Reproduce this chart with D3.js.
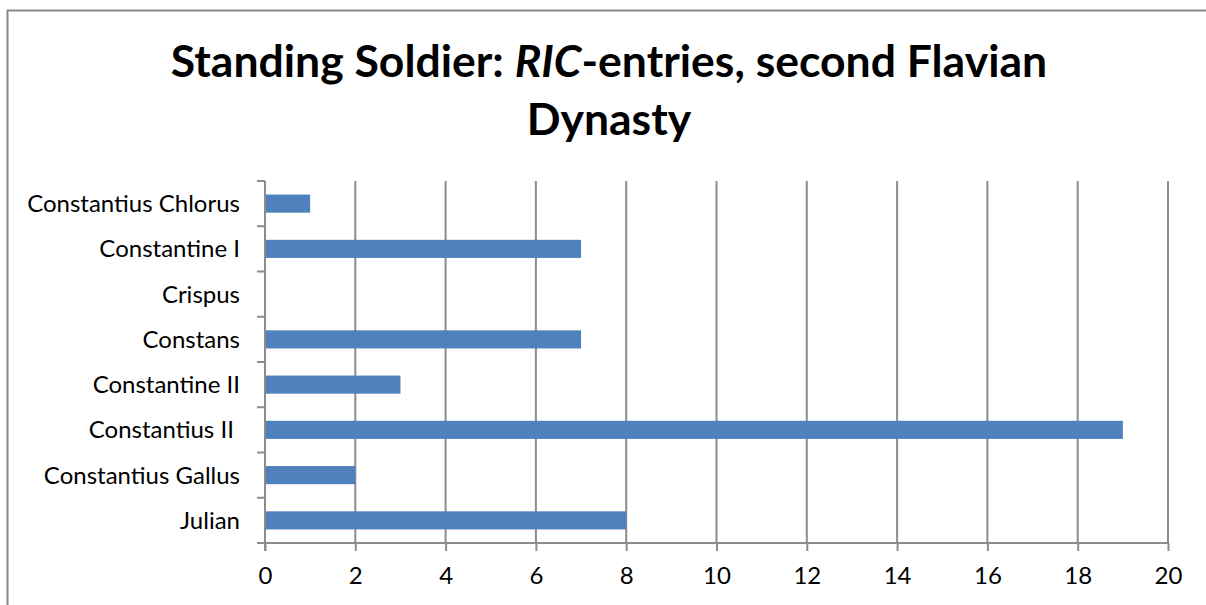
<!DOCTYPE html>
<html>
<head>
<meta charset="utf-8">
<script src="https://cdn.jsdelivr.net/npm/d3@7"></script>
<style>
  body { margin: 0; background: #fff; }
  svg { display: block; }
  text { font-family: Lato, "Open Sans", sans-serif; fill: #000; }
</style>
</head>
<body>
<div id="chart"></div>
<script>
// data
const rulers = ['Constantius Chlorus', 'Constantine I', 'Crispus', 'Constans',
  'Constantine II', 'Constantius II ', 'Constantius Gallus', 'Julian'];
const entries = [1, 7, 0, 7, 3, 19, 2, 8];
const xTicks = [0, 2, 4, 6, 8, 10, 12, 14, 16, 18, 20];

const width = 1206, height = 605;
const margin = { top: 181, right: 38, bottom: 62, left: 265 };

const svg = d3.select('#chart')
  .append('svg')
  .attr('width', width)
  .attr('height', height);

// chart frame
svg.append('rect')
  .attr('x', 7.5).attr('y', 10.5)
  .attr('width', width + 10).attr('height', height + 10)
  .attr('fill', 'none')
  .attr('stroke', '#888')
  .attr('stroke-width', 2);

// title
let title = svg.append('text')
  .attr('text-anchor', 'middle')
  .attr('font-size', 44.5)
  .attr('font-weight', 'bold');
let line1 = title.append('tspan').attr('x', 609).attr('y', 77);
line1.append('tspan').text('Standing Soldier: ');
line1.append('tspan').attr('font-style', 'italic').text('RIC');
line1.append('tspan').text('-entries, second Flavian');
title.append('tspan').attr('x', 609).attr('y', 135).text('Dynasty');

let x = d3.scaleLinear()
  .domain([0, 20])
  .range([margin.left, width - margin.right]);

let y = d3.scaleBand()
  .domain(rulers)
  .range([margin.top, height - margin.bottom])
  .paddingInner(0.6)
  .paddingOuter(0.3);

const gridColor = '#8c8c8c';

// vertical gridlines
svg.append('g')
  .selectAll('line')
  .data(xTicks.slice(1))
  .enter()
  .append('line')
  .attr('x1', d => x(d)).attr('x2', d => x(d))
  .attr('y1', margin.top).attr('y2', height - margin.bottom)
  .attr('stroke', gridColor)
  .attr('stroke-width', 2);

// bars
svg.append('g')
  .selectAll('rect')
  .data(rulers)
  .enter()
  .append('rect')
  .attr('x', x(0))
  .attr('y', d => y(d))
  .attr('height', y.bandwidth())
  .attr('width', (d, i) => x(entries[i]) - x(0))
  .attr('fill', '#4f81bd');

// x axis
let xAxis = svg.append('g')
  .attr('transform', `translate(0, ${height - margin.bottom})`)
  .call(d3.axisBottom(x).tickValues(xTicks).tickSize(8).tickPadding(16));
xAxis.select('.domain').attr('stroke', gridColor).attr('stroke-width', 2)
  .attr('d', `M${x(0)},0H${x(20)}`);
xAxis.selectAll('.tick line').attr('stroke', gridColor).attr('stroke-width', 2);
xAxis.selectAll('.tick text').attr('font-size', 24).attr('font-family', 'Lato, sans-serif');

// y axis: ticks sit between categories
let yAxis = svg.append('g');
yAxis.append('line')
  .attr('x1', x(0)).attr('x2', x(0))
  .attr('y1', margin.top).attr('y2', height - margin.bottom + 8)
  .attr('stroke', gridColor).attr('stroke-width', 2);
yAxis.selectAll('line.tick')
  .data(d3.range(rulers.length + 1))
  .enter()
  .append('line')
  .attr('class', 'tick')
  .attr('x1', x(0) - 8).attr('x2', x(0))
  .attr('y1', i => margin.top + i * (height - margin.top - margin.bottom) / rulers.length)
  .attr('y2', i => margin.top + i * (height - margin.top - margin.bottom) / rulers.length)
  .attr('stroke', gridColor).attr('stroke-width', 2);
yAxis.selectAll('text')
  .data(rulers)
  .enter()
  .append('text')
  .attr('x', x(0) - 25)
  .attr('y', d => y(d) + y.bandwidth() / 2)
  .attr('dy', '0.35em')
  .attr('text-anchor', 'end')
  .attr('font-size', 24)
  .attr('xml:space', 'preserve')
  .style('white-space', 'pre')
  .text(d => d);
</script>
</body>
</html>
